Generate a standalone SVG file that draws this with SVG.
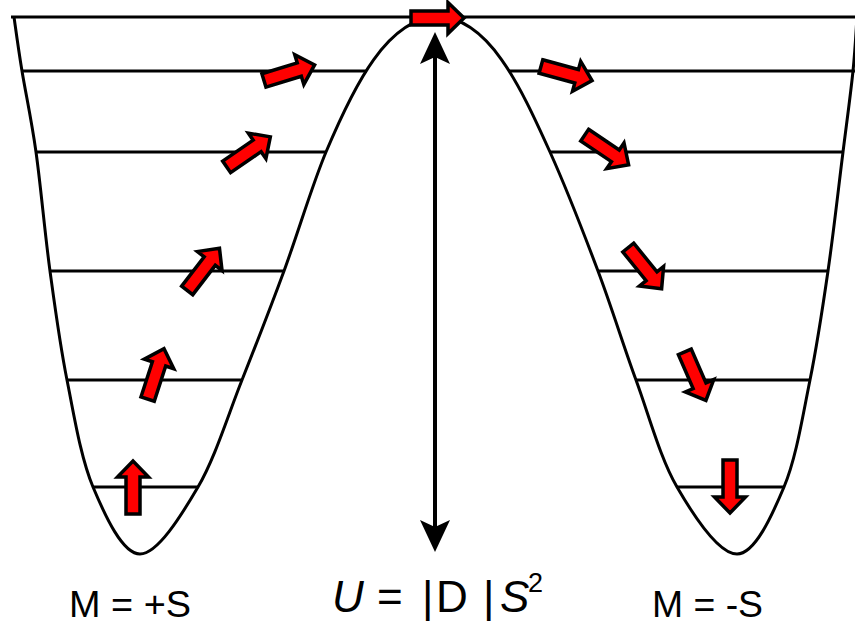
<svg xmlns="http://www.w3.org/2000/svg" width="855" height="627" viewBox="0 0 855 627">
<style>
.ln{stroke:#000;stroke-width:3;fill:none}
.cv{stroke:#000;stroke-width:3;fill:none}
.spin{fill:#ff0000;stroke:#000;stroke-width:3.5;stroke-linejoin:miter;stroke-miterlimit:10}
.lbl{font-family:"Liberation Sans",Arial,sans-serif;font-size:36px;fill:#000}
.eq{font-family:"Liberation Sans",Arial,sans-serif;font-size:44px;fill:#000}
</style>
<defs>
<path id="ra" d="M2,-7 H39 V-15.5 L55,0 L39,15.5 V7 H2 Z"/>
</defs>
<rect width="855" height="627" fill="#fff"/>
<g id="levels">
<line class="ln" x1="11" y1="17" x2="855" y2="17"/>
<line class="ln" x1="22" y1="71" x2="367" y2="71"/>
<line class="ln" x1="509" y1="71" x2="855" y2="71"/>
<line class="ln" x1="36" y1="152" x2="326" y2="152"/>
<line class="ln" x1="550" y1="152" x2="842" y2="152"/>
<line class="ln" x1="50" y1="271" x2="284" y2="271"/>
<line class="ln" x1="598" y1="271" x2="827" y2="271"/>
<line class="ln" x1="67" y1="380" x2="242" y2="380"/>
<line class="ln" x1="636" y1="380" x2="810" y2="380"/>
<line class="ln" x1="93" y1="487" x2="198" y2="487"/>
<line class="ln" x1="677" y1="487" x2="784" y2="487"/>
</g>
<g id="potential">
<path class="cv" d="M14,17 C15.3,26 18.3,48.5 22,71 C25.7,93.5 31.3,118.7 36,152 C40.7,185.3 44.8,233 50,271 C55.2,309 59.8,344 67,380 C74.2,416 80.8,458 93,487 C105.2,516 122.5,554 140,554 C157.5,554 181,516 198,487 C215,458 227.7,416 242,380 C256.3,344 270,309 284,271 C298,233 312,185.3 326,152 C354,85.4 388,17 438,17 C488,17 520,85.4 550,152 C565,185.3 583.7,233 598,271 C612.3,309 622.8,344 636,380 C649.2,416 660.2,458 677,487 C693.8,516 719.2,554 737,554 C754.8,554 771.8,516 784,487 C796.2,458 802.7,416 810,380 C817.3,344 822.5,309 828,271 C833.5,233 838.8,185.3 843,152 C847.2,118.7 850.7,93.5 853,71 C855.3,48.5 856.3,26 857,17"/>
</g>
<g id="barrier">
<line x1="435" y1="50" x2="435" y2="535" stroke="#000" stroke-width="4"/>
<path d="M435,32 L450,64 L435,57 L420,64 Z" fill="#000"/>
<path d="M435,552 L450,520 L435,527 L420,520 Z" fill="#000"/>
</g>
<g id="spins">
<use href="#ra" class="spin" transform="translate(133,516) rotate(-90)"/>
<use href="#ra" class="spin" transform="translate(147,401) rotate(-72)"/>
<use href="#ra" class="spin" transform="translate(186,292) rotate(-52.5)"/>
<use href="#ra" class="spin" transform="translate(225,168) rotate(-34.5)"/>
<use href="#ra" class="spin" transform="translate(262,81) rotate(-17)"/>
<use href="#ra" class="spin" transform="translate(409,18)"/>
<use href="#ra" class="spin" transform="translate(539,66) rotate(15.3)"/>
<use href="#ra" class="spin" transform="translate(583,134) rotate(34)"/>
<use href="#ra" class="spin" transform="translate(627,246) rotate(51)"/>
<use href="#ra" class="spin" transform="translate(684,350) rotate(66.5)"/>
<use href="#ra" class="spin" transform="translate(730,458) rotate(90)"/>
</g>
<g id="labels">
<text class="lbl" x="69" y="617" textLength="122" lengthAdjust="spacingAndGlyphs">M = +S</text>
<text class="lbl" x="652" y="617" textLength="111" lengthAdjust="spacingAndGlyphs">M = -S</text>
<text class="eq" y="612"><tspan x="332" font-style="italic">U</tspan><tspan x="377">=</tspan><tspan x="422">|</tspan><tspan x="436">D</tspan><tspan x="483">|</tspan><tspan x="500" font-style="italic">S</tspan><tspan x="528" y="592" font-size="27">2</tspan></text>
</g>
</svg>
